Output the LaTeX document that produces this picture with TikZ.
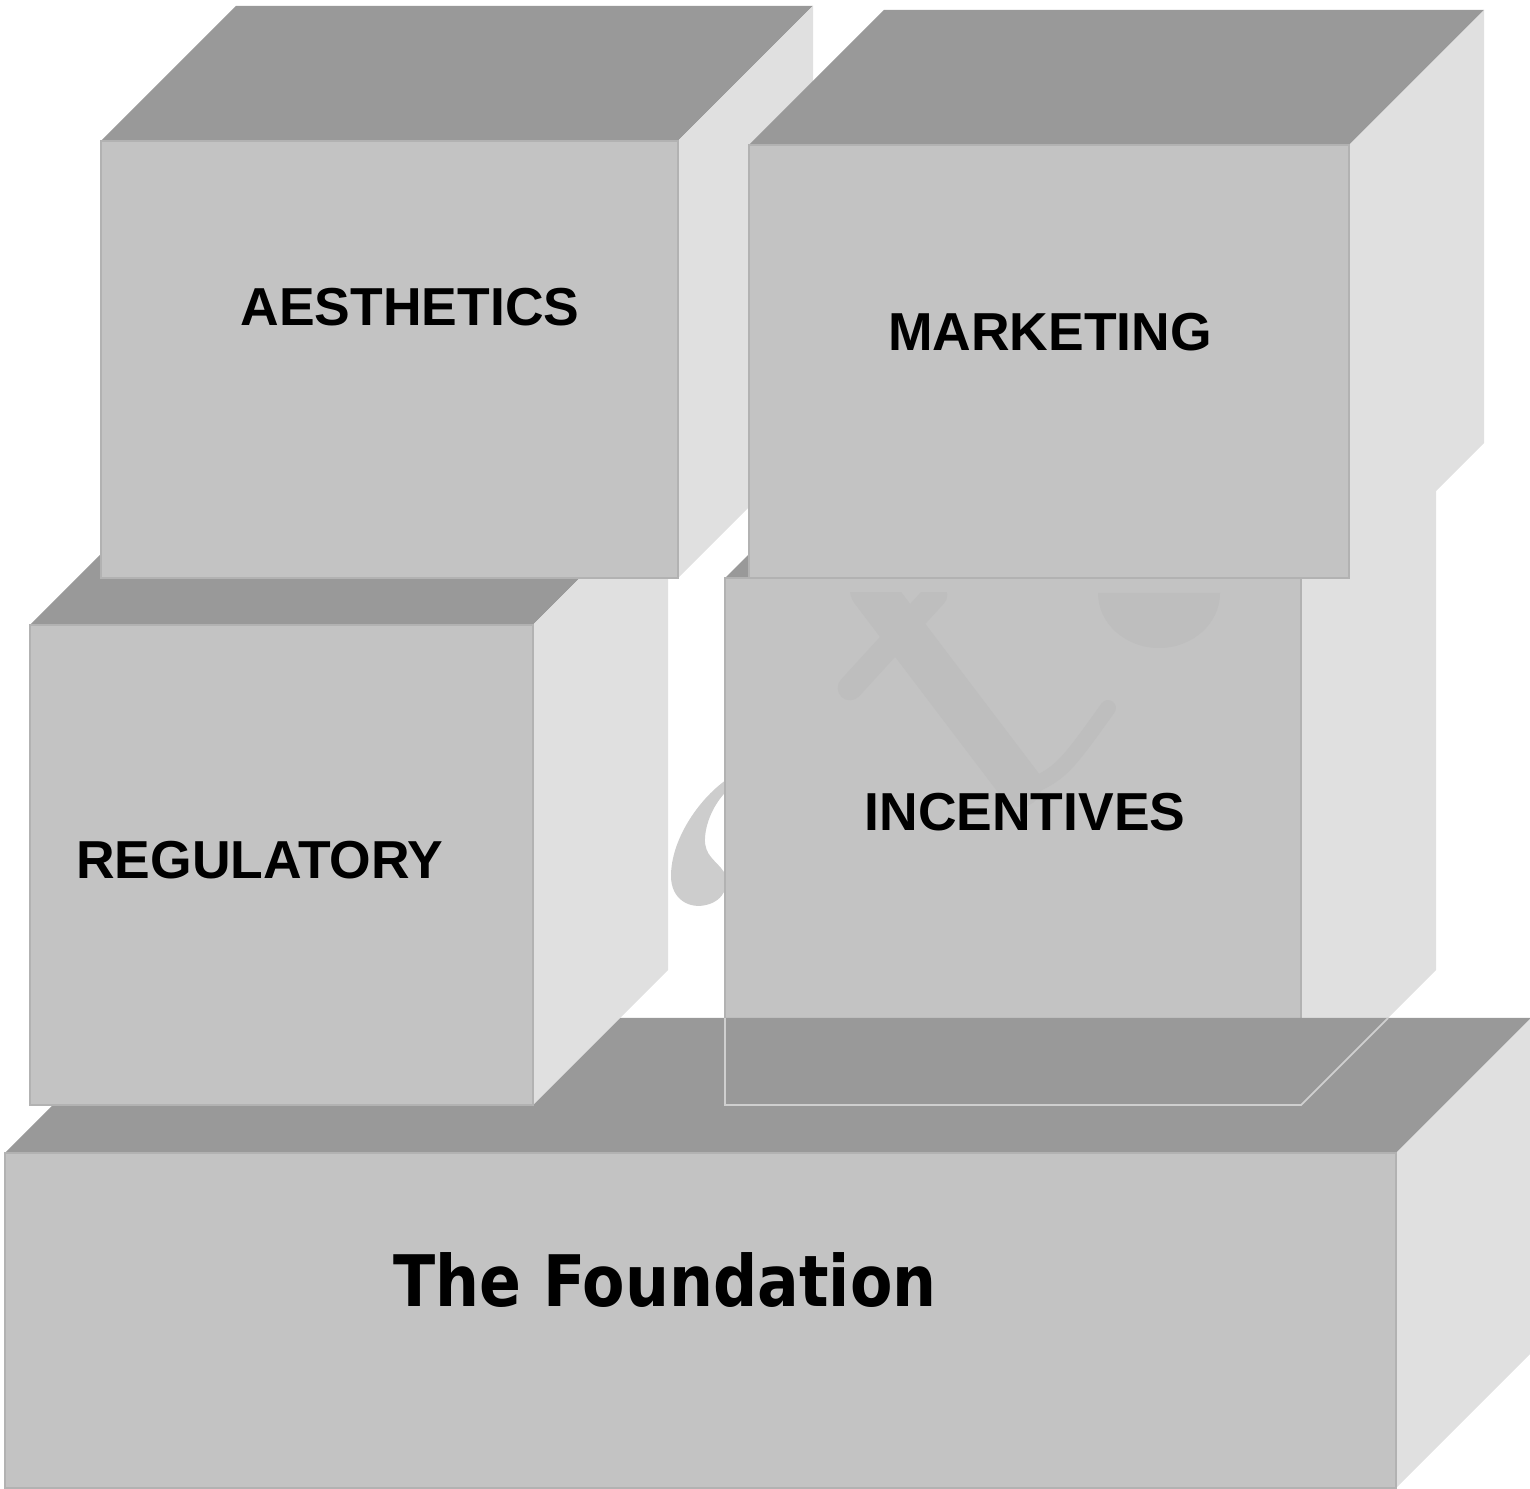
\documentclass[tikz,border=0pt]{standalone}
\usepackage{fontspec}
\setmainfont{Liberation Sans}
\newfontfamily\foundfont{DejaVu Sans}
\definecolor{frontgray}{HTML}{C3C3C3}
\definecolor{topgray}{HTML}{999999}
\definecolor{sidegray}{HTML}{E0E0E0}
\definecolor{edgegray}{HTML}{B2B2B2}
\definecolor{markgray}{HTML}{BEBEBE}
\definecolor{dropgray}{HTML}{CDCDCD}
% a block: front face at (#1,#2), width #3, height #4, depth 135
\newcommand\block[4]{%
  \fill[topgray] (#1,#2) -- ++(135,-135) -- ++(#3,0) -- ++(-135,135) -- cycle;
  \fill[sidegray] ({#1+#3},#2) -- ++(135,-135) -- ++(0,#4) -- ++(-135,135) -- cycle;
  \filldraw[fill=frontgray, draw=edgegray, line width=0.5pt] (#1,#2) rectangle ++(#3,#4);
}
\begin{document}
\begin{tikzpicture}[x=0.01cm, y=-0.01cm,
    lbl/.style={font=\fontsize{15.2}{18}\selectfont\bfseries, anchor=base, inner sep=0pt},
    wmark/.style={draw=markgray, line cap=round}]
    \useasboundingbox (0,0) rectangle (1530,1489);
    % drop behind the right-hand blocks
    \fill[dropgray] (726,780) .. controls (698,800) and (671,840) .. (671,876)
        .. controls (671,900) and (690,909) .. (706,905)
        .. controls (724,901) and (731,884) .. (724,872)
        .. controls (716,860) and (704,856) .. (705,838)
        .. controls (706,820) and (716,800) .. (730,788) -- cycle;
    \block{725}{578}{576}{527}
    \begin{scope}
        \clip (726,593) rectangle (1300,1104);
        \draw[wmark, line width=12.5pt] (872,590) -- (1020,785);
        \draw[wmark, line width=7pt] (850,688) -- (935,595);
        \draw[wmark, line width=4.5pt] (1010,795) .. controls (1060,775) .. (1108,708);
        \fill[markgray] (1098,593) arc[start angle=180, end angle=0, x radius=61, y radius=55];
    \end{scope}
    \block{5}{1153}{1391}{335}
    % outline of the incentives block over the foundation
    \draw[draw=frontgray!80!white, line width=0.5pt] (725,1018) -- (725,1105) -- (1301,1105) -- (1388,1018);
    \block{30}{625}{503}{480}
    \block{101}{141}{577}{437}
    \block{749}{145}{600}{433}
    \node[lbl] (aesthetics) at (410,326) {AESTHETICS};
    \node[lbl] (marketing) at (1050,351) {MARKETING};
    \node[lbl] (regulatory) at (260,879) {REGULATORY};
    \node[lbl] (incentives) at (1025,831) {INCENTIVES};
    \node[lbl, font=\foundfont\fontsize{20.2}{24}\selectfont\bfseries] (foundation) at (665,1306)
        {\scalebox{0.87}[1]{The Foundation}};
\end{tikzpicture}
\end{document}
